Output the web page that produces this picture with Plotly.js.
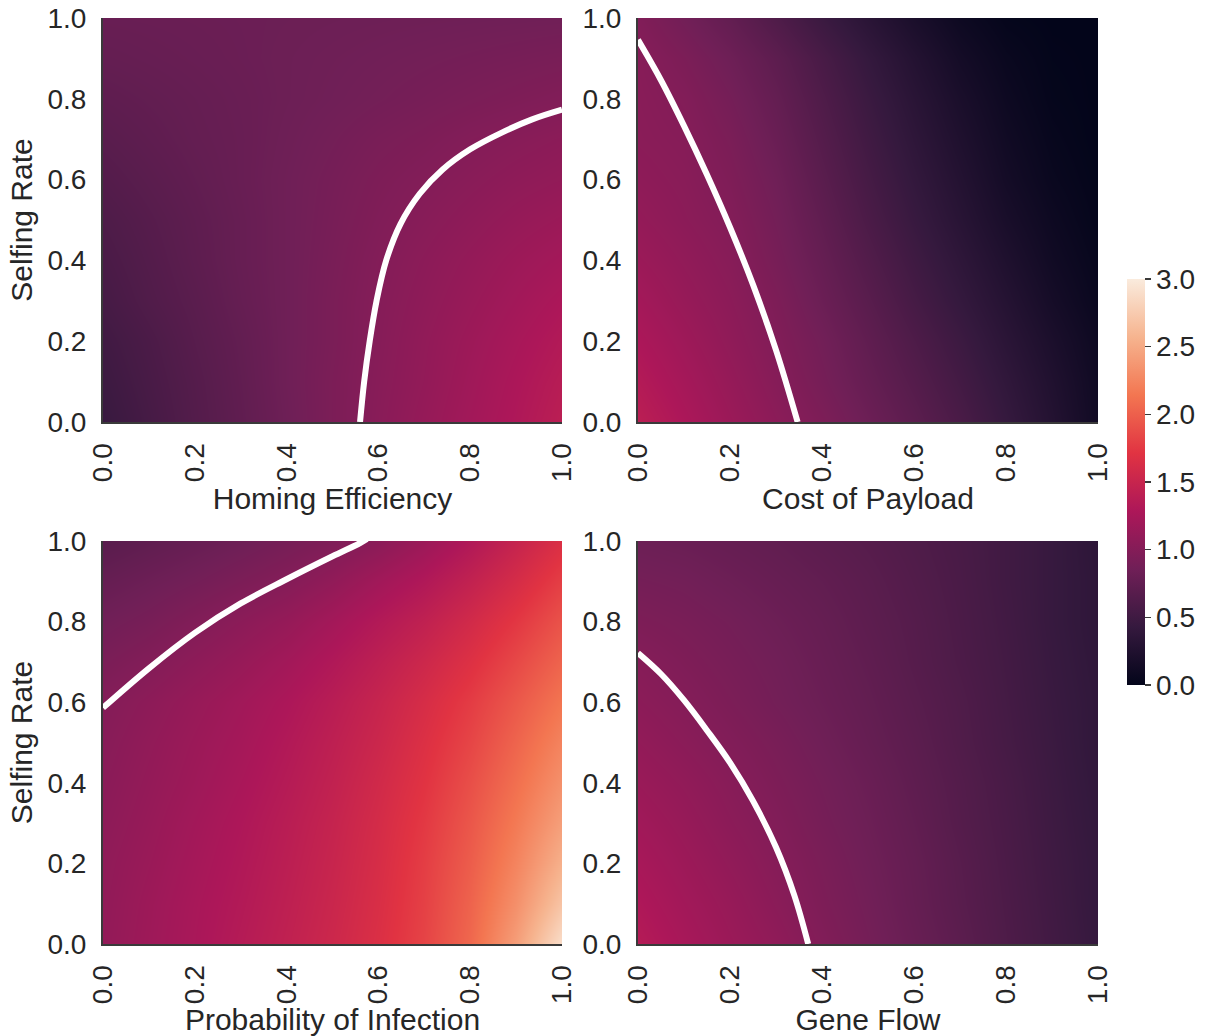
<!DOCTYPE html>
<html>
<head>
<meta charset="utf-8">
<script src="https://cdn.plot.ly/plotly-3.0.1.min.js"></script>
<style>
  html, body { margin: 0; padding: 0; background: #ffffff; }
  #chart { width: 1211px; height: 1036px; }
</style>
</head>
<body>
<div id="chart"></div>
<script>
// Parameter grid shared by all four panels (0 to 1 in steps of 0.1)
const paramGrid = [0, 0.1, 0.2, 0.3, 0.4, 0.5, 0.6, 0.7, 0.8, 0.9, 1.0];
const selfingGrid = [0, 0.1, 0.2, 0.3, 0.4, 0.5, 0.6, 0.7, 0.8, 0.9, 1.0];

// Each array: one row per selfing rate (0 -> 1), one column per parameter value (0 -> 1)
const homingEfficiency = [
  [0.45, 0.55, 0.65, 0.74, 0.84, 0.94, 1.03, 1.12, 1.21, 1.30, 1.40],
  [0.48, 0.57, 0.66, 0.75, 0.85, 0.94, 1.02, 1.10, 1.19, 1.28, 1.37],
  [0.51, 0.59, 0.68, 0.76, 0.85, 0.93, 1.01, 1.09, 1.17, 1.25, 1.33],
  [0.55, 0.63, 0.70, 0.78, 0.85, 0.93, 1.003, 1.07, 1.14, 1.21, 1.28],
  [0.58, 0.65, 0.72, 0.79, 0.85, 0.92, 0.99, 1.05, 1.11, 1.17, 1.22],
  [0.61, 0.67, 0.73, 0.79, 0.85, 0.91, 0.97, 1.02, 1.07, 1.12, 1.16],
  [0.65, 0.70, 0.75, 0.80, 0.85, 0.90, 0.95, 0.99, 1.03, 1.07, 1.10],
  [0.69, 0.73, 0.77, 0.80, 0.84, 0.88, 0.92, 0.95, 0.99, 1.02, 1.05],
  [0.73, 0.755, 0.78, 0.805, 0.83, 0.855, 0.88, 0.905, 0.93, 0.955, 0.98],
  [0.77, 0.785, 0.80, 0.815, 0.83, 0.845, 0.86, 0.875, 0.89, 0.905, 0.92],
  [0.80, 0.806, 0.812, 0.818, 0.824, 0.83, 0.836, 0.842, 0.848, 0.854, 0.86]
];

const costOfPayload = [
  [1.40, 1.28, 1.16, 1.05, 0.95, 0.83, 0.71, 0.58, 0.43, 0.28, 0.12],
  [1.34, 1.23, 1.12, 1.01, 0.90, 0.78, 0.66, 0.53, 0.39, 0.25, 0.11],
  [1.28, 1.18, 1.08, 0.98, 0.87, 0.74, 0.61, 0.48, 0.34, 0.21, 0.09],
  [1.22, 1.13, 1.05, 0.95, 0.82, 0.69, 0.55, 0.42, 0.29, 0.16, 0.06],
  [1.16, 1.09, 1.02, 0.91, 0.78, 0.64, 0.50, 0.37, 0.24, 0.12, 0.04],
  [1.11, 1.05, 0.99, 0.88, 0.74, 0.59, 0.45, 0.32, 0.19, 0.09, 0.02],
  [1.07, 1.03, 0.96, 0.85, 0.70, 0.55, 0.41, 0.28, 0.15, 0.06, 0.01],
  [1.04, 1.01, 0.93, 0.81, 0.66, 0.51, 0.37, 0.24, 0.12, 0.04, 0.00],
  [1.03, 0.985, 0.89, 0.77, 0.62, 0.47, 0.33, 0.20, 0.09, 0.02, 0.00],
  [1.02, 0.94, 0.84, 0.72, 0.57, 0.42, 0.28, 0.15, 0.06, 0.01, 0.00],
  [0.975, 0.87, 0.76, 0.62, 0.47, 0.33, 0.20, 0.09, 0.02, 0.00, 0.00]
];

const probabilityOfInfection = [
  [1.10, 1.18, 1.26, 1.35, 1.44, 1.54, 1.66, 1.82, 2.05, 2.42, 2.90],
  [1.09, 1.17, 1.25, 1.33, 1.42, 1.52, 1.64, 1.80, 2.02, 2.32, 2.70],
  [1.08, 1.15, 1.23, 1.31, 1.40, 1.50, 1.62, 1.78, 1.98, 2.24, 2.55],
  [1.06, 1.13, 1.21, 1.29, 1.38, 1.48, 1.60, 1.75, 1.94, 2.17, 2.43],
  [1.04, 1.11, 1.18, 1.26, 1.35, 1.45, 1.57, 1.71, 1.89, 2.10, 2.33],
  [1.02, 1.09, 1.16, 1.23, 1.32, 1.42, 1.53, 1.67, 1.83, 2.03, 2.24],
  [0.995, 1.06, 1.13, 1.20, 1.28, 1.38, 1.49, 1.62, 1.77, 1.95, 2.14],
  [0.93, 0.99, 1.06, 1.13, 1.21, 1.31, 1.42, 1.54, 1.68, 1.85, 2.03],
  [0.86, 0.91, 0.98, 1.05, 1.12, 1.22, 1.33, 1.44, 1.58, 1.74, 1.92],
  [0.78, 0.83, 0.88, 0.94, 1.00, 1.09, 1.20, 1.31, 1.45, 1.61, 1.79],
  [0.69, 0.74, 0.79, 0.84, 0.90, 0.96, 1.04, 1.16, 1.31, 1.48, 1.66]
];

const geneFlow = [
  [1.35, 1.25, 1.16, 1.08, 0.98, 0.89, 0.80, 0.71, 0.61, 0.52, 0.43],
  [1.30, 1.21, 1.13, 1.04, 0.95, 0.87, 0.78, 0.69, 0.60, 0.51, 0.42],
  [1.25, 1.17, 1.09, 1.01, 0.93, 0.85, 0.77, 0.68, 0.59, 0.50, 0.42],
  [1.20, 1.13, 1.05, 0.98, 0.90, 0.83, 0.75, 0.66, 0.58, 0.49, 0.41],
  [1.15, 1.09, 1.02, 0.95, 0.88, 0.81, 0.73, 0.65, 0.57, 0.48, 0.40],
  [1.10, 1.04, 0.98, 0.92, 0.85, 0.78, 0.71, 0.63, 0.55, 0.47, 0.39],
  [1.05, 1.00, 0.94, 0.88, 0.82, 0.76, 0.69, 0.62, 0.54, 0.46, 0.39],
  [1.01, 0.96, 0.91, 0.86, 0.80, 0.74, 0.67, 0.60, 0.53, 0.45, 0.38],
  [0.95, 0.92, 0.88, 0.83, 0.78, 0.72, 0.66, 0.59, 0.52, 0.44, 0.37],
  [0.89, 0.87, 0.83, 0.79, 0.75, 0.70, 0.64, 0.58, 0.51, 0.44, 0.37],
  [0.83, 0.81, 0.78, 0.75, 0.71, 0.67, 0.62, 0.57, 0.51, 0.44, 0.36]
];

// Threshold (value = 1) boundary in each panel: parameter value, selfing rate
const homingCurveX = [0.56, 0.569, 0.581, 0.596, 0.617, 0.648, 0.69, 0.74, 0.80, 0.87, 0.935, 1.0];
const homingCurveY = [0.0, 0.1, 0.2, 0.3, 0.4, 0.49, 0.565, 0.625, 0.675, 0.717, 0.749, 0.773];
const payloadCurveX = [0.0, 0.05, 0.10, 0.15, 0.20, 0.25, 0.30, 0.347];
const payloadCurveY = [0.946, 0.846, 0.733, 0.612, 0.482, 0.34, 0.178, 0.0];
const infectionCurveX = [0.0, 0.1, 0.2, 0.3, 0.4, 0.5, 0.56, 0.575];
const infectionCurveY = [0.586, 0.684, 0.772, 0.845, 0.905, 0.962, 0.995, 1.005];
const geneFlowCurveX = [0.0, 0.05, 0.10, 0.15, 0.20, 0.25, 0.30, 0.34, 0.37];
const geneFlowCurveY = [0.722, 0.67, 0.605, 0.53, 0.45, 0.355, 0.24, 0.12, 0.0];

const panelTitles = ['Homing Efficiency', 'Cost of Payload', 'Probability of Infection', 'Gene Flow'];
const panelData = [homingEfficiency, costOfPayload, probabilityOfInfection, geneFlow];
const panelCurves = [
  [homingCurveX, homingCurveY],
  [payloadCurveX, payloadCurveY],
  [infectionCurveX, infectionCurveY],
  [geneFlowCurveX, geneFlowCurveY]
];
const axisTicks = [0, 0.2, 0.4, 0.6, 0.8, 1.0];
const colorbarTicks = [0, 0.5, 1.0, 1.5, 2.0, 2.5, 3.0];

// "rocket" sequential palette
const rocket = [
  [0.0, '#03051a'],
  [1 / 7, '#35193e'],
  [2 / 7, '#701f57'],
  [3 / 7, '#ad1759'],
  [4 / 7, '#e13342'],
  [5 / 7, '#f37651'],
  [6 / 7, '#f6b48f'],
  [1.0, '#faebdd']
];

const textColor = '#262626';
const fontFamily = 'Liberation Sans, Arial, sans-serif';

const traces = [];
panelData.forEach((z, i) => {
  const n = i + 1;
  const xa = 'x' + (n === 1 ? '' : n);
  const ya = 'y' + (n === 1 ? '' : n);
  traces.push({
    type: 'heatmap',
    x: paramGrid,
    y: selfingGrid,
    z: z,
    zsmooth: 'best',
    coloraxis: 'coloraxis',
    xaxis: xa,
    yaxis: ya,
    hoverinfo: 'x+y+z'
  });
  traces.push({
    type: 'scatter',
    mode: 'lines',
    x: panelCurves[i][0],
    y: panelCurves[i][1],
    xaxis: xa,
    yaxis: ya,
    line: { color: '#ffffff', width: 6, shape: 'spline', smoothing: 1.0 },
    cliponaxis: true,
    hoverinfo: 'skip'
  });
});

// Pixel boxes of the four panels converted to paper fractions
const W = 1211, H = 1036;
const colBoxes = [[103, 562], [638, 1098]];
const rowBoxes = [[18, 422], [541, 944]];

function xDomain(c) { return [colBoxes[c][0] / W, colBoxes[c][1] / W]; }
function yDomain(r) { return [1 - rowBoxes[r][1] / H, 1 - rowBoxes[r][0] / H]; }

function makeX(c, title) {
  return {
    domain: xDomain(c),
    range: [0, 1],
    tickvals: axisTicks,
    tickformat: '.1f',
    tickangle: -90,
    ticks: 'outside',
    ticklen: 8,
    tickcolor: 'rgba(0,0,0,0)',
    tickfont: { size: 28, color: textColor, family: fontFamily },
    showline: true,
    linecolor: '#3a3a3a',
    linewidth: 2,
    mirror: false,
    showgrid: false,
    zeroline: false,
    fixedrange: true,
    automargin: false,
    title: { text: title, font: { size: 30, color: textColor, family: fontFamily }, standoff: 1 }
  };
}

function makeY(r, withTitle) {
  const ax = {
    domain: yDomain(r),
    range: [0, 1],
    tickvals: axisTicks,
    tickformat: '.1f',
    ticks: 'outside',
    ticklen: 9,
    tickcolor: 'rgba(0,0,0,0)',
    tickfont: { size: 28, color: textColor, family: fontFamily },
    showline: true,
    linecolor: '#3a3a3a',
    linewidth: 2,
    mirror: false,
    showgrid: false,
    zeroline: false,
    fixedrange: true,
    automargin: false
  };
  if (withTitle) {
    ax.title = { text: 'Selfing Rate', font: { size: 30, color: textColor, family: fontFamily }, standoff: 6 };
  }
  return ax;
}

const layout = {
  width: W,
  height: H,
  margin: { l: 0, r: 0, t: 0, b: 0 },
  paper_bgcolor: '#ffffff',
  plot_bgcolor: '#ffffff',
  showlegend: false,
  font: { family: fontFamily, color: textColor },
  coloraxis: {
    colorscale: rocket,
    cmin: 0,
    cmax: 3,
    colorbar: {
      x: 1127 / W,
      xanchor: 'left',
      y: 1 - 685 / H,
      yanchor: 'bottom',
      len: (685 - 279) / H,
      lenmode: 'fraction',
      thickness: 18,
      thicknessmode: 'pixels',
      outlinewidth: 0,
      xpad: 0,
      ypad: 0,
      tickvals: colorbarTicks,
      tickformat: '.1f',
      ticks: 'outside',
      ticklen: 6,
      tickwidth: 1.5,
      tickcolor: '#3a3a3a',
      tickfont: { size: 28, color: textColor, family: fontFamily }
    }
  },
  xaxis: makeX(0, panelTitles[0]),
  yaxis: makeY(0, true),
  xaxis2: makeX(1, panelTitles[1]),
  yaxis2: makeY(0, false),
  xaxis3: makeX(0, panelTitles[2]),
  yaxis3: makeY(1, true),
  xaxis4: makeX(1, panelTitles[3]),
  yaxis4: makeY(1, false)
};

// Pair each axis with its partner
layout.xaxis.anchor = 'y';  layout.yaxis.anchor = 'x';
layout.xaxis2.anchor = 'y2'; layout.yaxis2.anchor = 'x2';
layout.xaxis3.anchor = 'y3'; layout.yaxis3.anchor = 'x3';
layout.xaxis4.anchor = 'y4'; layout.yaxis4.anchor = 'x4';

Plotly.newPlot('chart', traces, layout, { displayModeBar: false, staticPlot: true });
</script>
</body>
</html>
